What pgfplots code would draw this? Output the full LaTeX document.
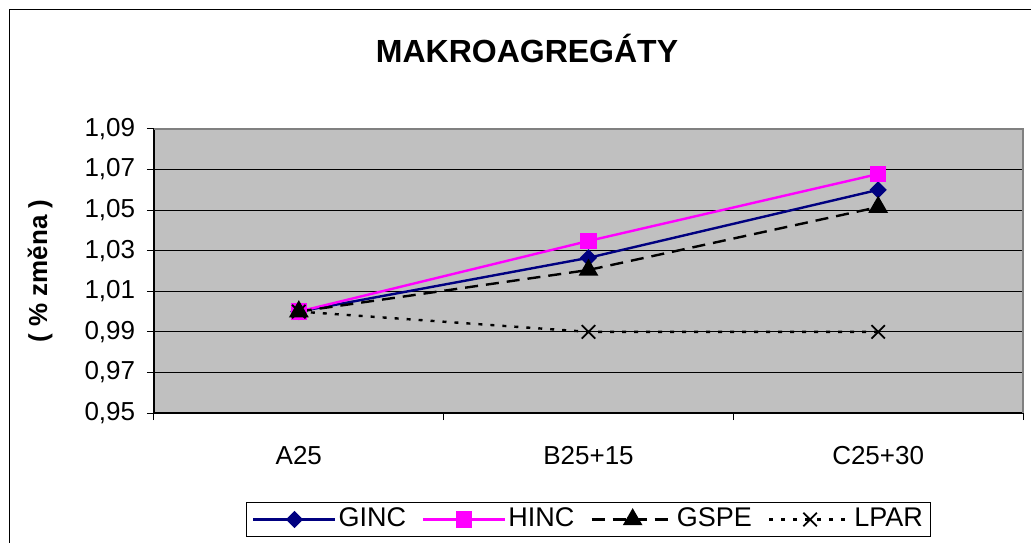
\documentclass[border=0pt]{standalone}
\usepackage{pgfplots}
\pgfplotsset{compat=1.18}
\usepackage{fontspec}
\setmainfont{Liberation Sans}
\definecolor{bgray}{RGB}{192,192,192}
\definecolor{navy}{RGB}{0,0,128}
\definecolor{mgnt}{RGB}{255,0,255}
\definecolor{borderg}{RGB}{128,128,128}
\begin{document}
\fontsize{26bp}{31bp}\selectfont
\begin{tikzpicture}
\useasboundingbox (-154bp,-130bp) rectangle (877bp,413bp);
\draw[line width=1.5bp] (-144.5bp,-140bp) -- (-144.5bp,403.5bp) -- (890bp,403.5bp);
\begin{axis}[
  at={(0,0)}, anchor=south west,
  scale only axis, width=869bp, height=284bp,
  xmin=-0.5, xmax=2.5, ymin=0.95, ymax=1.09,
  xtick={-0.5,0.5,1.5,2.5}, x tick label as interval,
  xticklabels={A25,B25+15,C25+30},
  ytick={0.95,0.97,0.99,1.01,1.03,1.05,1.07,1.09},
  yticklabel style={xshift=-3bp, /pgf/number format/fixed, /pgf/number format/fixed zerofill, /pgf/number format/precision=2, /pgf/number format/use comma},
  /pgf/number format/assume math mode=true,
  tick label style={font=\fontsize{26bp}{31bp}\selectfont},
  xticklabel style={yshift=-17bp},
  axis lines*=left,
  axis line style={black, line width=1.5bp},
  tick align=outside,
  major tick length=7bp,
  tick style={black, line width=1bp},
  ymajorgrids,
  grid style={black, line width=1bp},
  axis background/.style={fill=bgray},
  clip=false,
  ylabel={( \% změna )},
  every axis y label/.style={at={([xshift=-114bp]rel axis cs:0,0.5)}, rotate=90, anchor=center, font=\bfseries\fontsize{26bp}{31bp}\selectfont},
  legend columns=4,
  legend style={at={(0.5,-0.375)}, anchor=center, draw=black, line width=1bp,
    font=\fontsize{27bp}{32bp}\selectfont,
    /tikz/every even column/.append style={column sep=14bp},
    inner xsep=6bp, inner ysep=4bp},
  legend image code/.code={\draw[mark repeat=2,mark phase=2] plot coordinates {(0bp,0bp)(41bp,0bp)(82bp,0bp)};},
  after end axis/.code={\draw[borderg, line width=2bp] (rel axis cs:0,1) -- (rel axis cs:1,1) -- (rel axis cs:1,0);},
]
\addplot[navy, line width=2.4bp, mark=square*, mark size=4.9bp, mark options={solid, fill=navy, rotate=45}]
  coordinates {(0,1.000) (1,1.0265) (2,1.060)};
\addlegendentry{GINC}
\addplot[mgnt, line width=2.4bp, mark=square*, mark size=7bp, mark options={solid, fill=mgnt}]
  coordinates {(0,1.000) (1,1.0348) (2,1.0678)};
\addlegendentry{HINC}
\addplot[black, line width=2.4bp, dash pattern=on 13bp off 8bp, mark=triangle*, mark size=9bp, mark options={solid}]
  coordinates {(0,1.000) (1,1.0205) (2,1.0515)};
\addlegendentry{GSPE}
\addplot[black, line width=2.4bp, dash pattern=on 4bp off 8bp, mark=x, mark size=9.5bp, mark options={solid, line width=1.8bp}]
  coordinates {(0,1.000) (1,0.990) (2,0.990)};
\addlegendentry{LPAR}
\end{axis}
\node[font=\bfseries\fontsize{32bp}{38bp}\selectfont] at (373bp,365bp) {MAKROAGREGÁTY};
\end{tikzpicture}
\end{document}
